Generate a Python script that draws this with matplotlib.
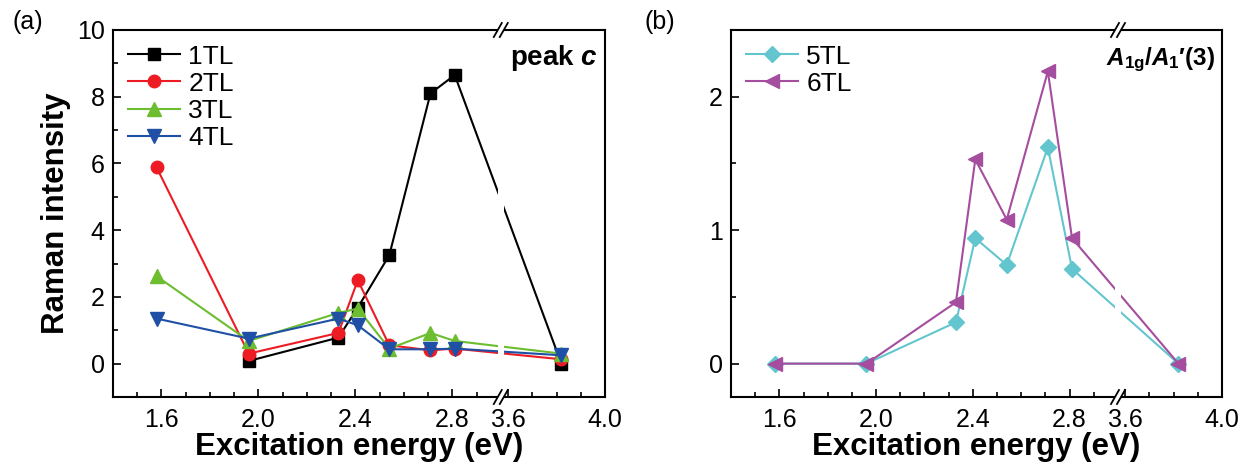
import numpy as np
import matplotlib
matplotlib.use("Agg")
import matplotlib.pyplot as plt
from matplotlib.patches import Rectangle
from matplotlib.lines import Line2D

plt.rcParams.update({
    "font.family": "Liberation Sans",
    "mathtext.fontset": "custom",
    "mathtext.rm": "Liberation Sans:bold",
    "mathtext.it": "Liberation Sans:italic:bold",
    "mathtext.bf": "Liberation Sans:bold",
})

# ---- data ----
energy = [1.58, 1.96, 2.33, 2.41, 2.54, 2.71, 2.81, 3.82]

tl1 = [np.nan, 0.08, 0.78, 1.68, 3.25, 8.10, 8.65, 0.0]
tl2 = [5.88, 0.30, 0.92, 2.50, 0.55, 0.40, 0.45, 0.13]
tl3 = [2.62, 0.68, 1.52, 1.65, 0.45, 0.92, 0.68, 0.30]
tl4 = [1.35, 0.75, 1.35, 1.15, 0.43, 0.43, 0.45, 0.25]

tl5 = [0.0, 0.0, 0.31, 0.94, 0.74, 1.62, 0.71, 0.0]
tl6 = [0.0, 0.0, 0.46, 1.53, 1.08, 2.19, 0.94, 0.0]

xticks = [1.6, 2.0, 2.4, 2.8, 3.6, 4.0]
xminor = [1.5, 1.7, 1.8, 1.9, 2.1, 2.2, 2.3, 2.5, 2.6, 2.7, 2.9, 3.7, 3.8, 3.9]

# broken x axis: 1.4-3.0 | 3.57-4.0
B0, B1 = 3.0, 3.57
GAP = B1 - B0


def fwd(x):
    x = np.asarray(x, dtype=float)
    return np.where(x <= B0, x, np.where(x >= B1, x - GAP, B0))


def inv(y):
    y = np.asarray(y, dtype=float)
    return np.where(y <= B0, y, y + GAP)


W, H = 1244, 467
fig = plt.figure(figsize=(W / 100, H / 100), dpi=100)
ax_w, ax_h = 492, 367
axA = fig.add_axes([113 / W, 1 - 397 / H, ax_w / W, ax_h / H])
axB = fig.add_axes([731 / W, 1 - 397 / H, 491 / W, ax_h / H])


def style_axis(ax):
    ax.set_xscale("function", functions=(fwd, inv))
    ax.set_xlim(1.4, 4.0)
    ax.set_xticks(xticks)
    ax.set_xticks(xminor, minor=True)
    ax.set_xticklabels([f"{t:.1f}" for t in xticks])
    for s in ax.spines.values():
        s.set_linewidth(1.5)
    ax.tick_params(which="both", direction="in", top=False, right=False,
                   labelsize=18, width=1.2)
    ax.tick_params(which="major", length=6, pad=6)
    ax.tick_params(axis="x", which="major", pad=8)
    ax.tick_params(which="minor", length=3.5)
    ax.set_xlabel("Excitation energy (eV)", fontsize=22.5, fontweight="bold",
                  labelpad=0)


def draw_break(ax, wpx, hpx):
    fig.canvas.draw()
    xd = ax.transData.transform((B0, 0))[0]
    xb = ax.transAxes.inverted().transform((xd, 0))[0]
    px, py = 1.0 / wpx, 1.0 / hpx
    ax.add_patch(Rectangle((xb - 3 * px, -4 * py), 6 * px, 1 + 8 * py,
                           transform=ax.transAxes, facecolor="white",
                           edgecolor="none", zorder=5, clip_on=False))
    for yb in (0, 1):
        for off in (-3, 3):
            ax.add_line(Line2D([xb + (off - 4) * px, xb + (off + 4) * px],
                               [yb - 7 * py, yb + 7 * py],
                               transform=ax.transAxes, color="black", lw=1.3,
                               zorder=6, clip_on=False))


lw = 1.5
leg_kw = dict(loc="upper left", frameon=False, fontsize=19, handlelength=2.0,
              handletextpad=0.3, labelspacing=0.12, borderaxespad=0.15)

# ---- panel a ----
axA.plot(energy, tl1, "-s", color="black", mec="black", lw=lw, ms=8, label="1TL")
axA.plot(energy, tl2, "-o", color="#ED1C24", mec="#ED1C24", lw=lw, ms=9, label="2TL")
axA.plot(energy, tl3, "-^", color="#6CBD2F", mec="#6CBD2F", lw=lw, ms=10, label="3TL")
axA.plot(energy, tl4, "-v", color="#1F50A5", mec="#1F50A5", lw=lw, ms=10, label="4TL")
style_axis(axA)
axA.set_ylim(-1, 10)
axA.set_yticks([0, 2, 4, 6, 8, 10])
axA.set_yticks([1, 3, 5, 7, 9], minor=True)
axA.set_ylabel("Raman intensity", fontsize=22.5, fontweight="bold", labelpad=4)
axA.legend(**leg_kw)
axA.text(0.985, 0.925, r"peak $c$", transform=axA.transAxes, ha="right",
         va="center", fontsize=20, fontweight="bold", zorder=7)
draw_break(axA, ax_w, ax_h)
fig.text(28 / W, 1 - 22 / H, "(a)", fontsize=18, ha="center", va="center")

# ---- panel b ----
axB.plot(energy, tl5, "-D", color="#63C6CE", mec="#63C6CE", lw=lw, ms=8, label="5TL")
axB.plot(energy, tl6, "-<", color="#A54D9F", mec="#A54D9F", lw=lw, ms=10, label="6TL")
style_axis(axB)
axB.set_ylim(-0.25, 2.5)
axB.set_yticks([0, 1, 2])
axB.set_yticks([0.5, 1.5], minor=True)
axB.legend(**leg_kw)
axB.text(0.985, 0.92, r"$A_{\mathrm{1g}}/A_{\mathrm{1}}\mathrm{′(3)}$",
         transform=axB.transAxes, ha="right", va="center", fontsize=17.5,
         zorder=7)
draw_break(axB, 491, ax_h)
fig.text(660 / W, 1 - 22 / H, "(b)", fontsize=18, ha="center", va="center")

fig.savefig("out.png", dpi=100)
